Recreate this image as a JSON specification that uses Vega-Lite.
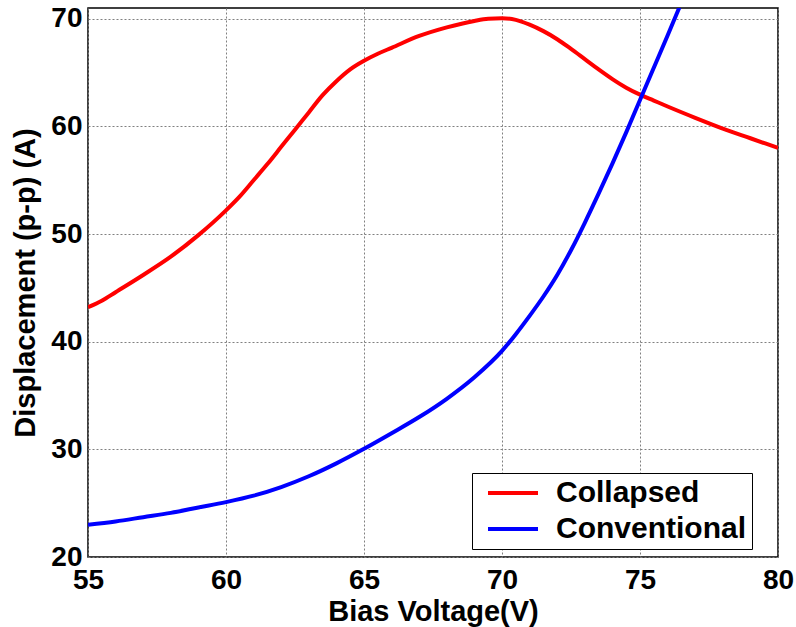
{
  "$schema": "https://vega.github.io/schema/vega-lite/v6.json",
  "width": 690,
  "height": 549,
  "autosize": {"type": "none"},
  "padding": {"left": 88, "top": 8, "right": 18, "bottom": 70},
  "background": "white",
  "config": {
    "font": "Liberation Sans",
    "view": {"stroke": "black", "strokeWidth": 1.5},
    "axis": {
      "domain": false,
      "ticks": false,
      "grid": true,
      "gridColor": "#808080",
      "gridDash": [2, 2],
      "gridWidth": 1,
      "labelFont": "Liberation Sans",
      "labelFontWeight": "bold",
      "labelFontSize": 28,
      "labelColor": "black",
      "labelFlush": false,
      "labelOverlap": false,
      "titleFont": "Liberation Sans",
      "titleFontWeight": "bold",
      "titleFontSize": 29,
      "titleColor": "black"
    }
  },
  "data": {
    "values": [
      {"voltage": 55, "displacement": 43.2, "series": "Collapsed"},
      {"voltage": 55.5, "displacement": 43.8, "series": "Collapsed"},
      {"voltage": 56, "displacement": 44.6, "series": "Collapsed"},
      {"voltage": 57, "displacement": 46.2, "series": "Collapsed"},
      {"voltage": 58, "displacement": 47.9, "series": "Collapsed"},
      {"voltage": 59, "displacement": 49.9, "series": "Collapsed"},
      {"voltage": 60, "displacement": 52.2, "series": "Collapsed"},
      {"voltage": 60.5, "displacement": 53.5, "series": "Collapsed"},
      {"voltage": 61, "displacement": 55.0, "series": "Collapsed"},
      {"voltage": 61.5, "displacement": 56.5, "series": "Collapsed"},
      {"voltage": 62, "displacement": 58.1, "series": "Collapsed"},
      {"voltage": 62.5, "displacement": 59.7, "series": "Collapsed"},
      {"voltage": 63, "displacement": 61.3, "series": "Collapsed"},
      {"voltage": 63.5, "displacement": 62.9, "series": "Collapsed"},
      {"voltage": 64, "displacement": 64.2, "series": "Collapsed"},
      {"voltage": 64.5, "displacement": 65.3, "series": "Collapsed"},
      {"voltage": 65, "displacement": 66.1, "series": "Collapsed"},
      {"voltage": 65.5, "displacement": 66.75, "series": "Collapsed"},
      {"voltage": 66, "displacement": 67.3, "series": "Collapsed"},
      {"voltage": 67, "displacement": 68.4, "series": "Collapsed"},
      {"voltage": 68, "displacement": 69.2, "series": "Collapsed"},
      {"voltage": 69, "displacement": 69.8, "series": "Collapsed"},
      {"voltage": 69.5, "displacement": 70.0, "series": "Collapsed"},
      {"voltage": 70, "displacement": 70.05, "series": "Collapsed"},
      {"voltage": 70.5, "displacement": 69.9, "series": "Collapsed"},
      {"voltage": 71, "displacement": 69.45, "series": "Collapsed"},
      {"voltage": 71.5, "displacement": 68.85, "series": "Collapsed"},
      {"voltage": 72, "displacement": 68.1, "series": "Collapsed"},
      {"voltage": 72.5, "displacement": 67.2, "series": "Collapsed"},
      {"voltage": 73, "displacement": 66.25, "series": "Collapsed"},
      {"voltage": 73.5, "displacement": 65.3, "series": "Collapsed"},
      {"voltage": 74, "displacement": 64.4, "series": "Collapsed"},
      {"voltage": 74.5, "displacement": 63.6, "series": "Collapsed"},
      {"voltage": 75, "displacement": 62.95, "series": "Collapsed"},
      {"voltage": 75.5, "displacement": 62.4, "series": "Collapsed"},
      {"voltage": 76, "displacement": 61.85, "series": "Collapsed"},
      {"voltage": 77, "displacement": 60.8, "series": "Collapsed"},
      {"voltage": 78, "displacement": 59.8, "series": "Collapsed"},
      {"voltage": 79, "displacement": 58.9, "series": "Collapsed"},
      {"voltage": 80, "displacement": 58.0, "series": "Collapsed"},
      {"voltage": 55, "displacement": 23.0, "series": "Conventional"},
      {"voltage": 56, "displacement": 23.3, "series": "Conventional"},
      {"voltage": 57, "displacement": 23.7, "series": "Conventional"},
      {"voltage": 58, "displacement": 24.1, "series": "Conventional"},
      {"voltage": 59, "displacement": 24.6, "series": "Conventional"},
      {"voltage": 60, "displacement": 25.1, "series": "Conventional"},
      {"voltage": 61, "displacement": 25.7, "series": "Conventional"},
      {"voltage": 62, "displacement": 26.5, "series": "Conventional"},
      {"voltage": 63, "displacement": 27.5, "series": "Conventional"},
      {"voltage": 64, "displacement": 28.7, "series": "Conventional"},
      {"voltage": 65, "displacement": 30.05, "series": "Conventional"},
      {"voltage": 66, "displacement": 31.5, "series": "Conventional"},
      {"voltage": 67, "displacement": 33.0, "series": "Conventional"},
      {"voltage": 68, "displacement": 34.7, "series": "Conventional"},
      {"voltage": 69, "displacement": 36.7, "series": "Conventional"},
      {"voltage": 70, "displacement": 39.15, "series": "Conventional"},
      {"voltage": 70.5, "displacement": 40.7, "series": "Conventional"},
      {"voltage": 71, "displacement": 42.4, "series": "Conventional"},
      {"voltage": 71.5, "displacement": 44.2, "series": "Conventional"},
      {"voltage": 72, "displacement": 46.2, "series": "Conventional"},
      {"voltage": 72.5, "displacement": 48.5, "series": "Conventional"},
      {"voltage": 73, "displacement": 51.05, "series": "Conventional"},
      {"voltage": 73.5, "displacement": 53.75, "series": "Conventional"},
      {"voltage": 74, "displacement": 56.55, "series": "Conventional"},
      {"voltage": 74.5, "displacement": 59.45, "series": "Conventional"},
      {"voltage": 75, "displacement": 62.45, "series": "Conventional"},
      {"voltage": 75.5, "displacement": 65.45, "series": "Conventional"},
      {"voltage": 76, "displacement": 68.45, "series": "Conventional"},
      {"voltage": 76.5, "displacement": 71.5, "series": "Conventional"},
      {"voltage": 77, "displacement": 74.5, "series": "Conventional"}
    ]
  },
  "mark": {"type": "line", "strokeWidth": 4, "interpolate": "monotone", "clip": true},
  "encoding": {
    "x": {
      "field": "voltage",
      "type": "quantitative",
      "scale": {"domain": [55, 80], "nice": false, "zero": false},
      "axis": {
        "title": "Bias Voltage(V)",
        "values": [55, 60, 65, 70, 75, 80],
        "labelBaseline": "alphabetic",
        "labelPadding": 31,
        "titleBaseline": "alphabetic",
        "titleY": 63
      }
    },
    "y": {
      "field": "displacement",
      "type": "quantitative",
      "scale": {"domain": [20, 71], "nice": false, "zero": false},
      "axis": {
        "title": "Displacement (p-p) (A)",
        "values": [20, 30, 40, 50, 60, 70],
        "labelPadding": 6,
        "titleBaseline": "alphabetic",
        "titleX": -54
      }
    },
    "color": {
      "field": "series",
      "type": "nominal",
      "scale": {"domain": ["Collapsed", "Conventional"], "range": ["#ff0000", "#0000ff"]},
      "legend": {
        "title": null,
        "orient": "none",
        "legendX": 384,
        "legendY": 465,
        "padding": 5,
        "symbolOffset": 21,
        "symbolType": "M-2.5,0H2.5",
        "symbolSize": 400,
        "symbolStrokeWidth": 4,
        "labelFont": "Liberation Sans",
        "labelFontSize": 30,
        "labelFontWeight": "bold",
        "labelColor": "black",
        "labelOffset": 28,
        "labelLimit": 400,
        "rowPadding": 6,
        "fillColor": "white",
        "strokeColor": "black"
      }
    }
  }
}
